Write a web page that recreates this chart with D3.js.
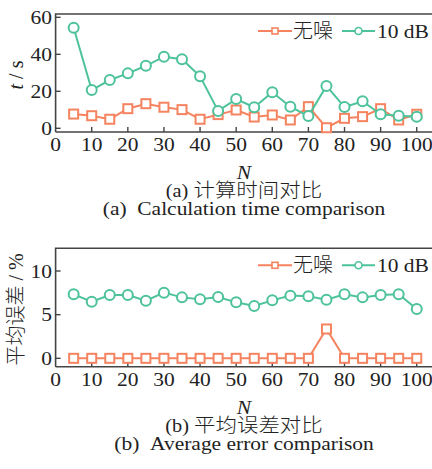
<!DOCTYPE html>
<html>
<head>
<meta charset="utf-8">
<script src="https://cdn.jsdelivr.net/npm/d3@7"></script>
<style>
  body { margin: 0; background: #fff; }
  svg text { font-family: "Liberation Serif", "Noto Sans CJK SC", serif; fill: #222; }
  .cjk { font-family: "Noto Sans CJK SC"; font-weight: 300; }
</style>
</head>
<body>
<div id="chart"></div>
<script>
// data
var n_values = [5, 10, 15, 20, 25, 30, 35, 40, 45, 50, 55, 60, 65, 70, 75, 80, 85, 90, 95, 100];
var time_clean = [7.7, 6.8, 4.9, 10.6, 13.3, 11.4, 10.1, 4.9, 7.4, 9.9, 6.1, 7.2, 4.5, 11.7, 0.3, 5.4, 6.3, 10.6, 4.5, 7.6];
var time_noise = [54.4, 20.7, 26.1, 29.7, 33.8, 38.7, 37.3, 28.1, 9.4, 15.8, 11.4, 19.5, 11.7, 6.6, 22.9, 11.5, 14.6, 7.6, 6.8, 6.3];
var err_clean = [0, 0, 0, 0, 0, 0, 0, 0, 0, 0, 0, 0, 0, 0, 3.36, 0, 0, 0, 0, 0];
var err_noise = [7.33, 6.49, 7.25, 7.25, 6.6, 7.52, 6.98, 6.76, 7.02, 6.41, 5.99, 6.64, 7.18, 7.1, 6.72, 7.33, 6.98, 7.25, 7.33, 5.65];
var x_ticks = [0, 10, 20, 30, 40, 50, 60, 70, 80, 90, 100];
var time_ticks = [0, 20, 40, 60];
var err_ticks = [0, 5, 10];
var series_names = ['无噪', '10 dB'];

var chart_width = 432;
var chart_height = 469;
var orange = '#f5835f';
var green = '#4dc29b';
var axis_color = '#444';
var stretch = 1.13; // the original's serif text is a bit wide

var svg = d3.select('#chart')
    .append('svg')
    .attr('width', chart_width)
    .attr('height', chart_height);

var x_scale = d3.scaleLinear()
    .domain([0, 105])
    .range([55.6, 434.8]);

function wideText(g, x, y, size, anchor) {
    return g.append('text')
        .attr('transform', 'translate(' + x + ',' + y + ') scale(' + stretch + ',1)')
        .attr('text-anchor', anchor)
        .attr('font-size', size);
}

function drawPanel(top, bottom, y_domain, y_ticks, clean, noise, y_title, caption_cn, caption_en) {
    var g = svg.append('g');
    var y_scale = d3.scaleLinear()
        .domain(y_domain)
        .range([bottom, top]);

    // frame (right side falls outside the picture)
    g.append('path')
        .attr('d', 'M' + x_scale(0) + ',' + bottom + 'V' + top + 'H' + (chart_width + 5))
        .attr('fill', 'none')
        .attr('stroke', axis_color)
        .attr('stroke-width', 1.6);
    g.append('line')
        .attr('x1', x_scale(0)).attr('x2', chart_width + 5)
        .attr('y1', bottom).attr('y2', bottom)
        .attr('stroke', axis_color)
        .attr('stroke-width', 1.6);

    // x ticks (inward) and labels
    g.selectAll('.xt')
        .data(x_ticks.slice(1))
        .enter()
        .append('line')
        .attr('x1', function (d) { return x_scale(d); })
        .attr('x2', function (d) { return x_scale(d); })
        .attr('y1', bottom)
        .attr('y2', bottom - 5)
        .attr('stroke', axis_color)
        .attr('stroke-width', 1.4);
    x_ticks.forEach(function (d) {
        wideText(g, x_scale(d), bottom + 19, 19, 'middle').text(d);
    });

    // y ticks (inward) and labels
    g.selectAll('.yt')
        .data(y_ticks)
        .enter()
        .append('line')
        .attr('x1', x_scale(0))
        .attr('x2', x_scale(0) + 5)
        .attr('y1', function (d) { return y_scale(d); })
        .attr('y2', function (d) { return y_scale(d); })
        .attr('stroke', axis_color)
        .attr('stroke-width', 1.4);
    y_ticks.forEach(function (d) {
        wideText(g, 52, y_scale(d) + 6.5, 19, 'end').text(d);
    });

    // lines and markers
    var line = d3.line()
        .x(function (d, i) { return x_scale(n_values[i]); })
        .y(function (d) { return y_scale(d); });

    g.append('path')
        .datum(clean)
        .attr('d', line)
        .attr('fill', 'none')
        .attr('stroke', orange)
        .attr('stroke-width', 2);
    g.selectAll('.sq')
        .data(clean)
        .enter()
        .append('rect')
        .attr('x', function (d, i) { return x_scale(n_values[i]) - 4.5; })
        .attr('y', function (d) { return y_scale(d) - 4.5; })
        .attr('width', 9)
        .attr('height', 9)
        .attr('fill', '#fff')
        .attr('stroke', orange)
        .attr('stroke-width', 2);

    g.append('path')
        .datum(noise)
        .attr('d', line)
        .attr('fill', 'none')
        .attr('stroke', green)
        .attr('stroke-width', 2);
    g.selectAll('.ci')
        .data(noise)
        .enter()
        .append('circle')
        .attr('cx', function (d, i) { return x_scale(n_values[i]); })
        .attr('cy', function (d) { return y_scale(d); })
        .attr('r', 5)
        .attr('fill', '#fff')
        .attr('stroke', green)
        .attr('stroke-width', 2);

    // legend
    var ly = top + 17;
    g.append('line').attr('x1', 258).attr('x2', 292).attr('y1', ly).attr('y2', ly)
        .attr('stroke', orange).attr('stroke-width', 2);
    g.append('rect').attr('x', 272).attr('y', ly - 3).attr('width', 6).attr('height', 6)
        .attr('fill', '#fff').attr('stroke', orange).attr('stroke-width', 1.6);
    g.append('text').attr('x', 293).attr('y', ly + 7)
        .attr('font-size', 20)
        .attr('class', 'cjk')
        .text(series_names[0]);
    g.append('line').attr('x1', 342).attr('x2', 375).attr('y1', ly).attr('y2', ly)
        .attr('stroke', green).attr('stroke-width', 2);
    g.append('circle').attr('cx', 358.5).attr('cy', ly).attr('r', 3.5)
        .attr('fill', '#fff').attr('stroke', green).attr('stroke-width', 1.6);
    wideText(g, 377, ly + 7, 19, 'start').text(series_names[1]);

    // y title
    g.append('text')
        .attr('transform', 'translate(23,' + ((top + bottom) / 2 + 2) + ') rotate(-90)')
        .attr('text-anchor', 'middle')
        .attr('font-size', 20)
        .html(y_title);

    // x title and captions
    wideText(g, 244, bottom + 47, 19, 'middle')
        .attr('font-style', 'italic')
        .text('N');
    wideText(g, 244, bottom + 65, 18, 'middle').html(caption_cn);
    wideText(g, 244, bottom + 83, 19, 'middle').text(caption_en);
}

drawPanel(14, 132, [-2, 61.8], time_ticks, time_clean, time_noise,
    '<tspan font-style="italic">t</tspan> / s',
    '(a)\u00a0<tspan class="cjk" font-size="19">计算时间对比</tspan>',
    '(a)\u00a0\u00a0Calculation time comparison');

drawPanel(248.3, 366.7, [-0.96, 12.6], err_ticks, err_clean, err_noise,
    '<tspan class="cjk">平均误差</tspan> / %',
    '(b)\u00a0<tspan class="cjk" font-size="19">平均误差对比</tspan>',
    '(b)\u00a0\u00a0Average error comparison');
</script>
</body>
</html>
